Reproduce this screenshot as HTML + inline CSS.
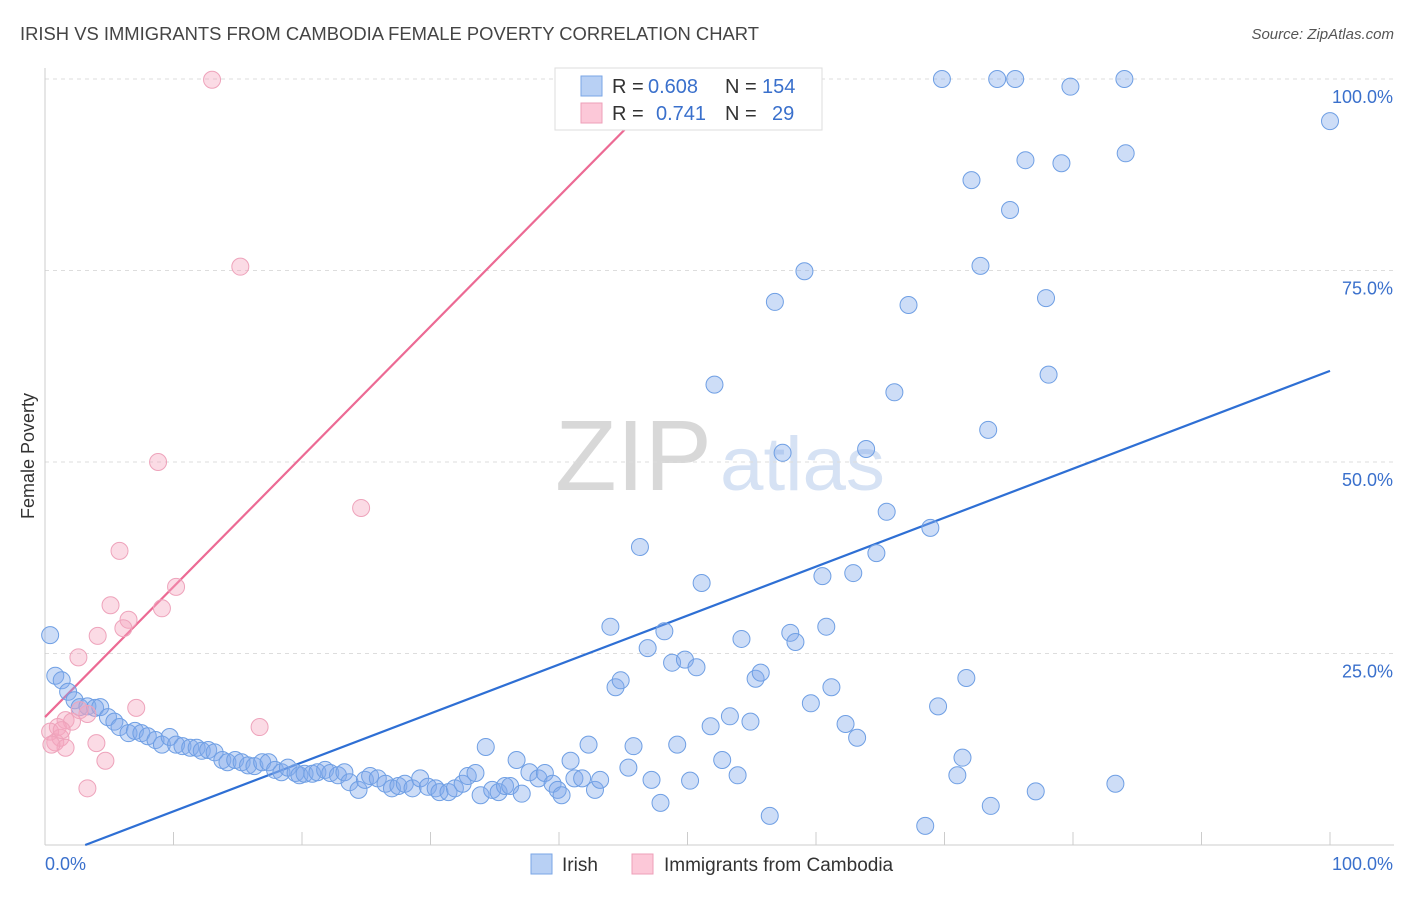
<!DOCTYPE html>
<html><head><meta charset="utf-8"><style>
body{margin:0;background:#fff;font-family:"Liberation Sans",sans-serif;}
svg text{font-family:"Liberation Sans",sans-serif;}
</style></head><body>
<svg id="chart" width="1406" height="892" xmlns="http://www.w3.org/2000/svg">
<text x="20" y="40" font-size="18" fill="#444" textLength="739" lengthAdjust="spacingAndGlyphs">IRISH VS IMMIGRANTS FROM CAMBODIA FEMALE POVERTY CORRELATION CHART</text>
<text x="1394" y="39" font-size="15" fill="#555" text-anchor="end" font-style="italic">Source: ZipAtlas.com</text>
<text x="555" y="490" font-size="100" fill="#d8d8d8" font-family="Liberation Serif" textLength="157" lengthAdjust="spacingAndGlyphs">ZIP</text>
<text x="720" y="490" font-size="76" fill="#d6e2f4" textLength="165" lengthAdjust="spacingAndGlyphs">atlas</text>
<text transform="translate(34,456) rotate(-90)" font-size="18" fill="#333" text-anchor="middle">Female Poverty</text>
<g id="grid"></g><g id="axes"></g><g id="lines"></g><g id="pts"></g>
<g>
<rect x="555" y="68" width="267" height="62" fill="#fff" stroke="#ddd"/>
<rect x="581" y="76" width="21" height="20" fill="#b8d0f4" stroke="#7aa6e6"/>
<rect x="581" y="103" width="21" height="20" fill="#fcc8d8" stroke="#ee9fb8"/>
<text x="612" y="93" font-size="20" fill="#333">R =</text>
<text x="648" y="93" font-size="20" fill="#3a70cc">0.608</text>
<text x="725" y="93" font-size="20" fill="#333">N =</text>
<text x="762" y="93" font-size="20" fill="#3a70cc">154</text>
<text x="612" y="120" font-size="20" fill="#333">R =</text>
<text x="656" y="120" font-size="20" fill="#3a70cc">0.741</text>
<text x="725" y="120" font-size="20" fill="#333">N =</text>
<text x="772" y="120" font-size="20" fill="#3a70cc">29</text>
</g>
<g>
<rect x="531" y="854" width="21" height="20" fill="#b8d0f4" stroke="#7aa6e6"/>
<text x="562" y="871" font-size="19" fill="#333">Irish</text>
<rect x="632" y="854" width="21" height="20" fill="#fcc8d8" stroke="#ee9fb8"/>
<text x="664" y="871" font-size="19" fill="#333">Immigrants from Cambodia</text>
</g>
</svg>
<script>
const irishX=[0.4,0.8,1.3,1.8,2.3,2.7,3.3,3.9,4.3,4.9,5.4,5.8,6.5,7.0,7.5,8.0,8.6,9.1,9.7,10.2,10.7,11.3,11.8,12.2,12.7,13.2,13.8,14.2,14.8,15.3,15.8,16.3,16.9,17.4,17.9,18.4,18.9,19.5,19.8,20.2,20.8,21.2,21.8,22.2,22.8,23.3,23.7,24.4,24.9,25.3,25.9,26.5,27.0,27.5,28.0,28.6,29.2,29.8,30.4,30.7,31.4,31.9,32.5,32.9,33.5,33.9,34.3,34.8,35.3,35.8,36.2,36.7,37.1,37.7,38.4,38.9,39.5,39.9,40.2,40.9,41.2,41.8,42.3,42.8,43.2,44.0,44.4,44.8,45.4,45.8,46.3,46.9,47.2,47.9,48.2,48.8,49.2,49.8,50.2,50.7,51.1,51.8,52.1,52.7,53.3,53.9,54.2,54.9,55.3,55.7,56.4,56.8,57.4,58.0,58.4,59.1,59.6,60.5,60.8,61.2,62.3,62.9,63.2,63.9,64.7,65.5,66.1,67.2,68.9,69.5,69.8,71.0,71.4,71.7,72.1,72.8,73.4,73.6,74.1,75.1,75.5,76.3,77.1,77.9,78.1,79.1,79.8,83.3,84.0,84.1,100,68.5];
const irishY=[27.4,22.1,21.5,20.0,18.9,18.0,18.1,17.9,18.0,16.7,16.1,15.4,14.6,14.9,14.6,14.2,13.7,13.1,14.1,13.1,12.9,12.7,12.7,12.3,12.4,12.1,11.1,10.8,11.1,10.8,10.4,10.3,10.8,10.8,9.8,9.5,10.1,9.4,9.1,9.3,9.3,9.5,9.8,9.4,9.1,9.5,8.2,7.2,8.5,9.0,8.7,8.0,7.4,7.7,8.0,7.4,8.7,7.6,7.4,6.9,6.9,7.4,8.0,9.0,9.4,6.5,12.8,7.2,6.9,7.7,7.7,11.1,6.7,9.5,8.7,9.4,8.0,7.2,6.5,11.0,8.7,8.7,13.1,7.2,8.5,28.5,20.6,21.5,10.1,12.9,38.9,25.7,8.5,5.5,27.9,23.8,13.1,24.2,8.4,23.2,34.2,15.5,60.1,11.1,16.8,9.1,26.9,16.1,21.7,22.5,3.8,70.9,51.2,27.7,26.5,74.9,18.5,35.1,28.5,20.6,15.8,35.5,14.0,51.7,38.1,43.5,59.1,70.5,41.4,18.1,100,9.1,11.4,21.8,86.8,75.6,54.2,5.1,100,82.9,100,89.4,7.0,71.4,61.4,89.0,99.0,8.0,100,90.3,94.5,2.5];
const cambX=[13.0,55.6,15.2,8.8,24.6,5.8,10.2,5.1,9.1,6.5,6.1,4.1,2.6,7.1,3.3,1.6,2.1,1.0,0.4,0.8,1.2,1.6,0.5,4.0,4.7,3.3,16.7,2.7,1.3];
const cambY=[99.9,99.9,75.5,50.0,44.0,38.4,33.7,31.3,30.9,29.4,28.3,27.3,24.5,17.9,17.1,16.3,16.1,15.4,14.8,13.4,14.0,12.7,13.1,13.3,11.0,7.4,15.4,17.6,15.0];
const yTicks=[25,50,75,100];
const yTickLabels=["25.0%","50.0%","75.0%","100.0%"];
const irishTrend=[-2.0,0.639];
const cambTrend=[16.7,1.70];
const NS="http://www.w3.org/2000/svg";
const sx=v=>45+v*12.85, sy=v=>845-v*7.66;
function mk(tag,attrs,parent){const e=document.createElementNS(NS,tag);for(const k in attrs)e.setAttribute(k,attrs[k]);document.getElementById(parent).appendChild(e);return e;}
yTicks.forEach((t,i)=>{
 const g=mk('line',{x1:45,x2:1394,y1:sy(t),y2:sy(t),stroke:'#ddd','stroke-dasharray':'4,4'},'grid');
 
 
 const tx=mk('text',{x:1393,y:sy(t)+24,'font-size':18,fill:'#3a70cc','text-anchor':'end'},'axes');
 tx.textContent=yTickLabels[i];
 
 
});
const ax=mk('line',{x1:45,x2:45,y1:68,y2:845,stroke:'#ccc'},'axes');


const bx=mk('line',{x1:45,x2:1394,y1:845,y2:845,stroke:'#ccc'},'axes');


for(let i=0;i<=10;i++){const t=mk('line',{x1:sx(i*10),x2:sx(i*10),y1:832,y2:845,stroke:'#ccc'},'axes');
 
 }
const l0=mk('text',{x:45,y:870,'font-size':18,fill:'#3a70cc'},'axes');l0.textContent='0.0%';


const l1=mk('text',{x:1393,y:870,'font-size':18,fill:'#3a70cc','text-anchor':'end'},'axes');l1.textContent='100.0%';


const x0=-irishTrend[0]/irishTrend[1];
const tl=mk('line',{x1:sx(x0),y1:sy(0),x2:sx(100),y2:sy(irishTrend[0]+irishTrend[1]*100),stroke:'#2e6fd4','stroke-width':2.2},'lines');


const xe=(100-cambTrend[0])/cambTrend[1];
const pl=mk('line',{x1:sx(0),y1:sy(cambTrend[0]),x2:sx(xe),y2:sy(100),stroke:'#ec6a94','stroke-width':2.2},'lines');


irishX.forEach((x,i)=>{const c=mk('circle',{cx:sx(x),cy:sy(irishY[i]),r:8.5,fill:'rgba(130,170,235,0.4)',stroke:'#6f9fe4','stroke-width':1},'pts');
 
 });
cambX.forEach((x,i)=>{const c=mk('circle',{cx:sx(x),cy:sy(cambY[i]),r:8.5,fill:'rgba(245,165,190,0.4)',stroke:'#eea3bb','stroke-width':1},'pts');
 
 });
</script>
</body></html>
